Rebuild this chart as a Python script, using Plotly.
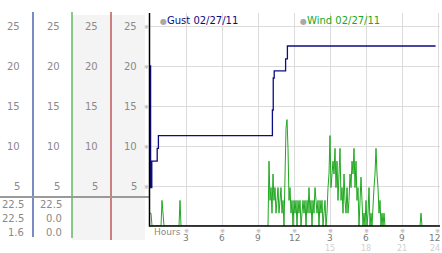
import plotly.graph_objects as go

# ---------------- data ----------------
gust_hours = [0, 0.05, 0.15, 0.6, 0.7, 10.2, 10.27, 10.35, 11.3, 11.45, 23.8]
gust_vals = [20.0, 4.8, 8.1, 9.7, 11.3, 14.5, 18.5, 19.4, 20.9, 22.5, 22.5]

# wind, one reading every 5 minutes, one row per hour
wind_rows = [
    [1.6, 1.6, 0, 0, 0, 0, 0, 0, 0, 0, 0, 0],
    [3.2, 1.6, 0, 0, 0, 0, 0, 0, 0, 0, 0, 0],
    [0, 0, 0, 0, 0, 0, 3.2, 0, 0, 0, 0, 0],
    [0, 0, 0, 0, 0, 0, 0, 0, 0, 0, 0, 0],
    [0, 0, 0, 0, 0, 0, 0, 0, 0, 0, 0, 0],
    [0, 0, 0, 0, 0, 0, 0, 0, 0, 0, 0, 0],
    [0, 0, 0, 0, 0, 0, 0, 0, 0, 0, 0, 0],
    [0, 0, 0, 0, 0, 0, 0, 0, 0, 0, 0, 0],
    [0, 0, 0, 0, 0, 0, 0, 0, 0, 0, 0, 0],
    [0, 0, 0, 0, 0, 0, 0, 0, 0, 0, 0, 8.1],
    [3.2, 4.8, 1.6, 6.5, 3.2, 4.8, 1.6, 3.2, 4.8, 1.6, 3.2, 4.8],
    [1.6, 3.2, 0, 4.8, 12.2, 13.3, 9.7, 3.2, 4.8, 1.6, 3.2, 0],
    [3.2, 1.6, 3.2, 0, 3.2, 1.6, 3.2, 0, 1.6, 3.2, 1.6, 3.2],
    [0, 3.2, 1.6, 4.8, 1.6, 3.2, 0, 3.2, 1.6, 4.8, 3.2, 1.6],
    [3.2, 0, 3.2, 1.6, 3.2, 0, 1.6, 3.2, 0, 1.6, 4.8, 6.5],
    [11.3, 4.8, 6.5, 8.1, 6.5, 9.7, 4.8, 8.1, 3.2, 6.5, 9.7, 3.2],
    [4.8, 1.6, 6.5, 3.2, 1.6, 4.8, 1.6, 3.2, 6.5, 4.8, 8.1, 6.5],
    [9.7, 4.8, 8.1, 3.2, 4.8, 0, 4.8, 6.1, 3.2, 0, 1.6, 0],
    [3.2, 0, 1.6, 4.8, 0, 1.6, 0, 3.2, 4.8, 6.5, 9.7, 6.5],
    [4.8, 1.6, 3.2, 0, 1.6, 0, 1.6, 0, 0, 0, 0, 0],
    [0, 0, 0, 0, 0, 0, 0, 0, 0, 0, 0, 0],
    [0, 0, 0, 0, 0, 0, 0, 0, 0, 0, 0, 0],
    [0, 0, 0, 0, 0, 0, 0, 1.6, 0, 0, 0, 0],
    [0, 0, 0, 0, 0, 0, 0, 0, 0, 0, 0, 0],
]
wind_vals = [v for row in wind_rows for v in row]
wind_hours = [i / 12 for i in range(len(wind_vals))]

y_ticks = [5, 10, 15, 20, 25]
x_ticks = [3, 6, 9, 12, 15, 18, 21, 24]
x_tick_text = ["3", "6", "9", "12", "3", "6", "9", "12"]
x_tick_text2 = {15: "15", 18: "18", 21: "21", 24: "24"}

table_col1 = ["22.5", "22.5", "1.6"]
table_col2 = ["22.5", "0.0", "0.0"]

gust_name = "Gust 02/27/11"
wind_name = "Wind 02/27/11"

GUST_C = "#0c0c84"
WIND_C = "#20a820"
LABEL_C = "#8a8a8a"
FONT = "DejaVu Sans"

# ---------------- layout geometry ----------------
W, H = 442, 253
L, R, T, B = 150, 2, 13, 27
PW, PH = W - L - R, H - T - B


def xp(px):
    return (px - L) / PW


def yp(py):
    return (H - B - py) / PH


fig = go.Figure()
fig.add_trace(go.Scatter(x=wind_hours, y=wind_vals, mode="lines",
                         line=dict(color=WIND_C, width=1), hoverinfo="skip"))
fig.add_trace(go.Scatter(x=gust_hours, y=gust_vals, mode="lines", line_shape="hv",
                         line=dict(color=GUST_C, width=1.3), hoverinfo="skip"))

shapes = []
# left panel column backgrounds
shapes.append(dict(type="rect", xref="paper", yref="paper", x0=xp(72), x1=xp(145),
                   y0=yp(240), y1=yp(15), fillcolor="#f4f4f4", line_width=0, layer="below"))
# column dividers
for px, col, bot in [(33, "#1f3f9f", 237), (72, "#3aa83a", 238), (111, "#b03030", 240)]:
    shapes.append(dict(type="line", xref="paper", yref="paper", x0=xp(px), x1=xp(px),
                       y0=yp(bot), y1=yp(12), line=dict(color=col, width=1.2)))
# gray separator
shapes.append(dict(type="line", xref="paper", yref="paper", x0=xp(0), x1=xp(149),
                   y0=yp(197), y1=yp(197), line=dict(color="#9a9a9a", width=2)))
# plot axis lines
shapes.append(dict(type="line", xref="paper", yref="paper", x0=xp(149.5), x1=xp(149.5),
                   y0=yp(226.5), y1=yp(13), line=dict(color="black", width=1.5)))
shapes.append(dict(type="line", xref="paper", yref="paper", x0=xp(149), x1=1,
                   y0=yp(226), y1=yp(226), line=dict(color="black", width=1.5)))

ann = []
for v in y_ticks:
    for rx in [22, 62, 100, 139]:
        ann.append(dict(x=xp(rx), y=v, xref="paper", yref="y", text=str(v), showarrow=False,
                        xanchor="right", yanchor="middle",
                        font=dict(family=FONT, size=10, color=LABEL_C)))
    ann.append(dict(x=xp(146), y=v, xref="paper", yref="y", text="※", showarrow=False,
                    xanchor="center", yanchor="middle",
                    font=dict(family=FONT, size=6, color="#a0a0a0")))

for i, (a, b) in enumerate(zip(table_col1, table_col2)):
    py = 204 + 14 * i
    ann.append(dict(x=xp(26), y=yp(py), xref="paper", yref="paper", text=a, showarrow=False,
                    xanchor="right", yanchor="middle", font=dict(family=FONT, size=10, color=LABEL_C)))
    ann.append(dict(x=xp(64), y=yp(py), xref="paper", yref="paper", text=b, showarrow=False,
                    xanchor="right", yanchor="middle", font=dict(family=FONT, size=10, color=LABEL_C)))

# x tick labels
for v, t in zip(x_ticks, x_tick_text):
    last = v == x_ticks[-1]
    anc = "right" if last else "center"
    sh = 4 if last else 0
    ann.append(dict(x=v, y=yp(230), xref="x", yref="paper", text="※", showarrow=False,
                    xanchor="center", yanchor="middle", xshift=-1 if last else 0,
                    font=dict(family=FONT, size=6, color="#a0a0a0")))
    ann.append(dict(x=v, y=yp(238), xref="x", yref="paper", text=t, showarrow=False,
                    xanchor=anc, xshift=sh, yanchor="middle",
                    font=dict(family=FONT, size=9, color="#7a7a7a")))
    if v in x_tick_text2:
        ann.append(dict(x=v, y=yp(248), xref="x", yref="paper", text=x_tick_text2[v], showarrow=False,
                        xanchor=anc, xshift=sh, yanchor="middle",
                        font=dict(family=FONT, size=8, color="#d0d0d0")))
ann.append(dict(x=xp(152), y=yp(232), xref="paper", yref="paper", text="Hours", showarrow=False,
                xanchor="left", yanchor="middle", font=dict(family=FONT, size=9, color=LABEL_C)))

# legend entries
ann.append(dict(x=xp(158), y=yp(20), xref="paper", yref="paper",
                text="<span style='color:#a8a8a8;font-size:8px'>●</span>" + gust_name, showarrow=False,
                xanchor="left", yanchor="middle", font=dict(family=FONT, size=10, color=GUST_C)))
ann.append(dict(x=xp(298), y=yp(20), xref="paper", yref="paper",
                text="<span style='color:#a8a8a8;font-size:8px'>●</span>" + wind_name, showarrow=False,
                xanchor="left", yanchor="middle", font=dict(family=FONT, size=10, color=WIND_C)))

fig.update_layout(
    width=W, height=H, margin=dict(l=L, r=R, t=T, b=B, pad=0),
    paper_bgcolor="white", plot_bgcolor="white", showlegend=False,
    shapes=shapes, annotations=ann,
    xaxis=dict(range=[0, PW / 12], tickvals=x_ticks, showticklabels=False, showgrid=True,
               gridcolor="#dcdcdc", gridwidth=1, zeroline=False, showline=False, fixedrange=True),
    yaxis=dict(range=[0, PH / 8], tickvals=y_ticks, showticklabels=False, showgrid=True,
               gridcolor="#dcdcdc", gridwidth=1, zeroline=False, showline=False, fixedrange=True),
)

fig.write_html("out.html", config={"displayModeBar": False})
